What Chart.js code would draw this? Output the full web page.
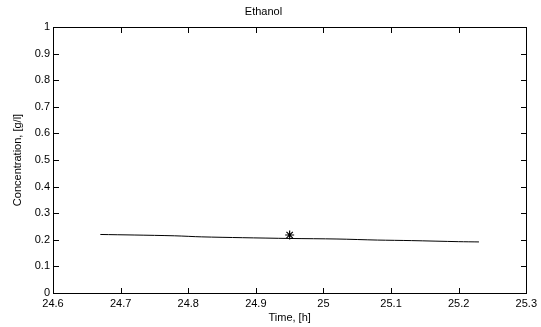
<!DOCTYPE html>
<html>
<head>
<meta charset="utf-8">
<script src="https://cdn.jsdelivr.net/npm/chart.js@4/dist/chart.umd.min.js"></script>
<style>
  html, body { margin: 0; padding: 0; background: #fff; }
  #wrap { width: 541px; height: 327px; }
</style>
</head>
<body>
<div id="wrap"><canvas id="ethanolChart" width="541" height="327"></canvas></div>
<script>
// simulated ethanol concentration (line)
const simTime = [24.67, 24.72, 24.78, 24.82, 24.88, 24.95, 25.02, 25.08, 25.13, 25.2, 25.23];
const simConc = [0.22, 0.218, 0.215, 0.211, 0.208, 0.205, 0.203, 0.199, 0.197, 0.193, 0.192];

// measured sample (star marker)
const measTime = [24.95];
const measConc = [0.218];

const xTicks = [24.6, 24.7, 24.8, 24.9, 25, 25.1, 25.2, 25.3];
const yTicks = [0, 0.1, 0.2, 0.3, 0.4, 0.5, 0.6, 0.7, 0.8, 0.9, 1];

const font = { family: 'Liberation Sans, Arial, sans-serif', size: 11 };

function fmt(v) {
  return String(Number(v.toFixed(2)));
}

// matlab style box with inward ticks on all four sides
const boxTicks = {
  id: 'boxTicks',
  afterDraw(chart) {
    const ctx = chart.ctx;
    const a = chart.chartArea;
    const sx = chart.scales.x, sy = chart.scales.y;
    const len = 5;
    const L = Math.round(a.left), R = Math.round(a.right);
    const T = Math.round(a.top), B = Math.round(a.bottom);
    ctx.save();
    ctx.fillStyle = '#000';
    ctx.fillRect(L, T, R - L + 1, 1);
    ctx.fillRect(L, B, R - L + 1, 1);
    ctx.fillRect(L, T, 1, B - T + 1);
    ctx.fillRect(R, T, 1, B - T + 1);
    for (const t of xTicks) {
      const x = Math.round(sx.getPixelForValue(t));
      ctx.fillRect(x, B - len, 1, len);
      ctx.fillRect(x, T + 1, 1, len);
    }
    for (const t of yTicks) {
      const y = Math.round(sy.getPixelForValue(t));
      ctx.fillRect(L + 1, y, len, 1);
      ctx.fillRect(R - len, y, len, 1);
    }
    ctx.restore();
  }
};

new Chart(document.getElementById('ethanolChart').getContext('2d'), {
  type: 'scatter',
  data: {
    datasets: [
      {
        label: 'Simulation',
        data: simTime.map((t, i) => ({ x: t, y: simConc[i] })),
        showLine: true,
        borderColor: '#000',
        borderWidth: 1,
        pointRadius: 0,
        tension: 0.3
      },
      {
        label: 'Measured',
        data: measTime.map((t, i) => ({ x: t, y: measConc[i] })),
        showLine: false,
        pointStyle: 'star',
        pointRadius: 4.5,
        borderColor: '#000',
        borderWidth: 1.2,
        backgroundColor: '#000'
      }
    ]
  },
  options: {
    responsive: false,
    animation: false,
    layout: { padding: { top: 0, right: 14, bottom: 0, left: 0 } },
    plugins: {
      legend: { display: false },
      tooltip: { enabled: false },
      title: {
        display: true,
        text: 'Ethanol',
        color: '#000',
        font: { ...font, weight: 'normal' },
        padding: { top: 5, bottom: 8.8 }
      }
    },
    scales: {
      x: {
        type: 'linear',
        min: 24.6,
        max: 25.3,
        afterBuildTicks: s => { s.ticks = xTicks.map(v => ({ value: v })); },
        afterFit: s => { s.height = 34; },
        grid: { display: false, drawTicks: false },
        border: { display: false },
        ticks: { color: '#000', font, padding: 4, maxRotation: 0, callback: v => fmt(v) },
        title: { display: true, text: 'Time, [h]', color: '#000', font, padding: { top: 0, bottom: 2 } }
      },
      y: {
        min: 0,
        max: 1,
        afterBuildTicks: s => { s.ticks = yTicks.map(v => ({ value: v })); },
        afterFit: s => { s.width = 53; },
        grid: { display: false, drawTicks: false },
        border: { display: false },
        ticks: { color: '#000', font, padding: 3, callback: v => fmt(v) },
        title: { display: true, text: 'Concentration, [g/l]', color: '#000', font, padding: { top: 11.4, bottom: 0 } }
      }
    }
  },
  plugins: [boxTicks]
});
</script>
</body>
</html>
